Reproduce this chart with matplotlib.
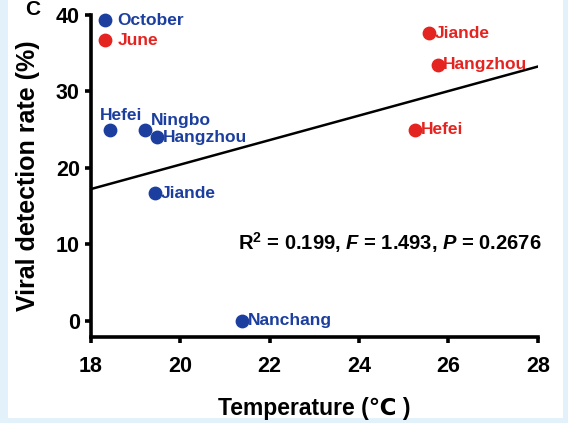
import numpy as np
import matplotlib
matplotlib.use("Agg")
import matplotlib.pyplot as plt
from matplotlib.patches import Rectangle

# October survey (blue) and June survey (red)
oct_cities = ["Hefei", "Ningbo", "Hangzhou", "Jiande", "Nanchang"]
oct_temp = [18.43, 19.21, 19.48, 19.43, 21.38]
oct_rate = [25.0, 25.0, 24.0, 16.7, 0.0]

jun_cities = ["Jiande", "Hangzhou", "Hefei"]
jun_temp = [25.56, 25.76, 25.25]
jun_rate = [37.6, 33.5, 25.0]

x_ticks = [18, 20, 22, 24, 26, 28]
y_ticks = [0, 10, 20, 30, 40]
stats_text = r"R$^2$ = 0.199, $F$ = 1.493, $P$ = 0.2676"

blue = "#1c3f9f"
red = "#e42420"

plt.rcParams["font.family"] = ["Liberation Sans", "DejaVu Sans"]
plt.rcParams["font.weight"] = "bold"
plt.rcParams["mathtext.fontset"] = "custom"
plt.rcParams["mathtext.rm"] = "Liberation Sans:bold"
plt.rcParams["mathtext.it"] = "Liberation Sans:bold:italic"
plt.rcParams["mathtext.bf"] = "Liberation Sans:bold"

fig = plt.figure(figsize=(5.68, 4.23), dpi=100, facecolor="#e2f1fa")
# white page area of the screenshot
fig.patches.append(Rectangle((8 / 568, 1 - 418 / 423), (563 - 8) / 568, 418 / 423,
                             transform=fig.transFigure, facecolor="white",
                             edgecolor="none", zorder=-1))
fig.text(0.045, 1.0, "C", fontsize=15, fontweight="bold", ha="left", va="top")

ax = fig.add_axes([0.160, 0.2033, 0.787, 0.7612])
ax.set_facecolor("none")
ax.set_zorder(2)

ax.scatter(oct_temp, oct_rate, s=80, color=blue, zorder=3, label="October")
ax.scatter(jun_temp, jun_rate, s=80, color=red, zorder=3, label="June")

# linear regression over all sites
all_t = np.array(oct_temp + jun_temp)
all_r = np.array(oct_rate + jun_rate)
k, b = np.polyfit(all_t, all_r, 1)
xs = np.array([18, 28])
ax.plot(xs, k * xs + b, color="black", lw=1.8, zorder=2)

offsets = {"Hefei": (8, 5, "center", "bottom"),
           "Ningbo": (4, 7, "left", "center")}
for name, t, r in zip(oct_cities, oct_temp, oct_rate):
    dx, dy, ha, va = offsets.get(name, (4, 0, "left", "center"))
    ax.annotate(name, (t, r), xytext=(dx, dy), textcoords="offset points",
                ha=ha, va=va, color=blue, fontsize=12.5, fontweight="bold")
for name, t, r in zip(jun_cities, jun_temp, jun_rate):
    ax.annotate(name, (t, r), xytext=(4, 0), textcoords="offset points",
                ha="left", va="center", color=red, fontsize=12.5, fontweight="bold")

ax.text(21.29, 10.3, stats_text, fontsize=14.5, fontweight="bold", va="center", ha="left")

leg = ax.legend(loc="upper left", bbox_to_anchor=(0.013, 1.008), frameon=False,
                handlelength=1.0, handletextpad=0.2, labelspacing=0.28,
                borderpad=0.0, borderaxespad=0.0,
                fontsize=12.5, markerscale=1.0, labelcolor="markerfacecolor")
for t in leg.get_texts():
    t.set_fontweight("bold")

ax.set_xlim(18, 28)
ax.set_ylim(-2.1, 40)
ax.set_xticks(x_ticks)
ax.set_yticks(y_ticks)
ax.spines["top"].set_visible(False)
ax.spines["right"].set_visible(False)
ax.spines["left"].set_linewidth(2.6)
ax.spines["bottom"].set_linewidth(2.6)
ax.spines["left"].set_bounds(-2.1, 40)
ax.tick_params(axis="both", direction="out", length=4, width=2.6, labelsize=15.5)
ax.tick_params(axis="x", pad=10)
ax.tick_params(axis="y", pad=4)
for lbl in ax.get_xticklabels() + ax.get_yticklabels():
    lbl.set_fontweight("bold")

ax.set_xlabel("Temperature (\u2103 )", fontsize=16.5, fontweight="bold", labelpad=14)
ax.set_ylabel("Viral detection rate (%)", fontsize=18, fontweight="bold", labelpad=11)

fig.savefig("out.png", dpi=100, facecolor=fig.get_facecolor())
